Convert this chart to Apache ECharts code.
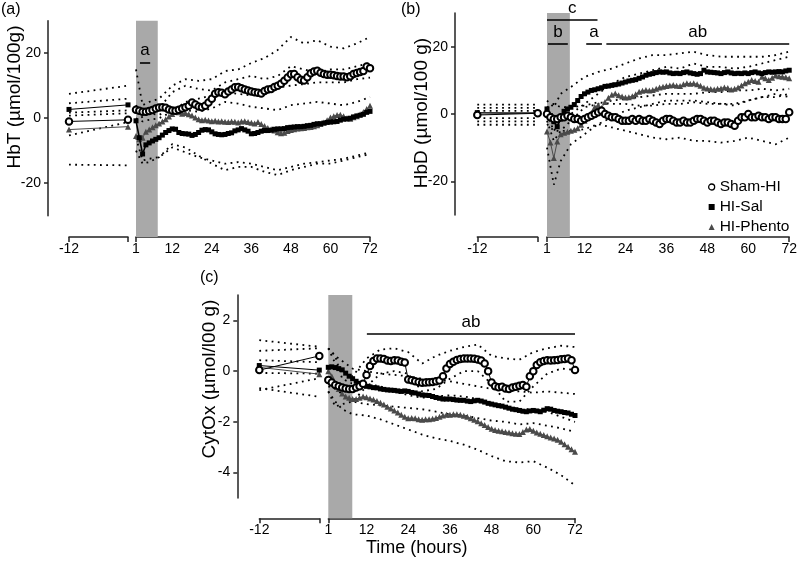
<!DOCTYPE html>
<html><head><meta charset="utf-8">
<script src="https://cdn.jsdelivr.net/npm/echarts@6/dist/echarts.min.js"></script>
<style>html,body{margin:0;padding:0;background:#fff}#c{width:800px;height:564px}</style>
</head><body><div id="c"></div>
<script>
// ---------- DATA ----------
const hours = [1,2,3,4,5,6,7,8,9,10,11,12,13,14,15,16,17,18,19,20,21,22,23,24,25,26,27,28,29,30,31,32,33,34,35,36,37,38,39,40,41,42,43,44,45,46,47,48,49,50,51,52,53,54,55,56,57,58,59,60,61,62,63,64,65,66,67,68,69,70,71,72];
const sdHours = [1,3,5,8,12,16,20,24,28,32,36,40,44,48,52,56,60,64,68,72];
const baseHours = [-12, 0];
const xLabelsRight = [1,12,24,36,48,60,72];
const xLabelsLeft = [-12];
const yTicksHb = [-20,0,20];
const yTicksCyt = [-4,-2,0,2];
const seriesNames = ['Sham-HI','HI-Sal','HI-Phento'];

// (a) HbT
const aSham = [2.6,2.3,2.0,2.0,2.2,2.5,3.0,3.3,3.4,3.2, 2.7,2.4,2.3,2.6,3.0,3.4,3.8,4.8,4.2,3.6, 3.4,3.8,4.8,6.0,7.5,8.0,7.8,7.4,8.2,8.8, 9.5,9.6,9.2,8.8,8.5,8.2,8.0,7.8,7.6,8.4, 8.8,9.0,9.6,10.0,10.6,11.5,12.5,13.5,13.6,12.6, 11.8,11.6,12.6,13.8,14.4,14.6,14.0,13.6,13.4,13.4, 13.2,13.0,12.8,12.8,12.6,12.9,13.6,13.9,14.2,14.5, 15.9,15.4];
const aSal = [-0.8,-6,-11,-8.2,-7.6,-7,-6.5,-6,-5.2,-4.4, -3.8,-3.3,-3.4,-4.4,-4.7,-4.8,-4.9,-5.3,-5.0,-4.4, -3.7,-3.5,-3.6,-4.2,-4.8,-5.0,-5.1,-5.0,-4.7,-4.5, -3.9,-3.6,-3.2,-3.6,-4.0,-4.8,-4.7,-4.4,-4.0,-3.8, -3.8,-3.7,-3.4,-3.3,-3.3,-3.2,-2.9,-2.8,-2.7,-2.6, -2.6,-2.5,-2.3,-2.2,-1.9,-1.7,-1.7,-1.5,-1.3,-1.2, -1.1,-1.0,-0.6,-0.3,-0.2,0.0,0.4,0.7,0.9,1.2, 1.8,2.1];
const aPheno = [-5.5,-6.5,-6,-4.2,-3.5,-2.8,-2.2,-1.6,-1.0,-0.3, 0.5,1.3,2.0,1.8,1.4,1.6,1.2,0.8,0.2,-0.3, -0.6,-0.5,-0.7,-0.9,-0.8,-1.0,-0.9,-1.1,-1.2,-1.0, -1.1,-1.3,-1.0,-0.9,-1.2,-1.4,-1.6,-1.2,-1.8,-2.4, -3.0,-3.4,-3.8,-4.3,-4.6,-4.5,-3.9,-3.6,-3.4,-3.2, -3.1,-3.0,-2.8,-2.7,-2.5,-2.2,-1.8,-1.3,-0.6,0.2, 0.6,1.0,1.1,0.6,0.0,-0.2,0.3,0.6,1.2,1.9, 2.8,3.8];
const aBaseSham = [-1.0,-0.5];
const aBaseSal = [2.7,4.1];
const aBasePheno = [-3.5,-2.6];
const aSD1 = [15,4,5,6,10,12,11.5,12,14.5,15,17,18.5,21,25,23,24,22,21.5,23,25];
const aSD2 = [4,0,2,3,8,10,9,8.5,11,12,13,12,13,16,15,14,15,15,16,17];
const aSD3 = [0,-1,-0.5,0,2,5,6,7,8,7.5,7,8,9.5,10,10.5,11,11,11,12,12.5];
const aSD4 = [3,2,1.5,1,3,2.5,2,3,5,4.5,3.5,3,2.5,4,4.5,5,4.5,4,5,6.5];
const aSD5 = [-6,-13,-12.5,-12,-9,-10.5,-12,-13,-14,-13.5,-14,-15,-16,-15,-14,-13.5,-13,-12.5,-11.5,-10.5];
const aSD6 = [-10,-14,-13.5,-12,-8,-9,-11.5,-14,-16,-15,-15,-16.5,-17.5,-16,-15,-14,-14,-13,-12,-11];
const aBaseSD = [[7.5,10],[4.6,6.0],[1.7,2.4],[0.8,1.5],[-5.3,-1.2],[-14.3,-14.5]];
const aNotes = [{text:'a', from:2.2, to:5.3, y:17.2}];

// (b) HbD
const bSham = [0,-1,-1.5,-1.5,-1,-1,-0.5,-1,-1.5,-1.5, -2,-1.5,-1,-0.5,0,0.5,1,0,-0.5,-1, -1,-1.5,-2,-2,-2,-1.5,-2,-1.5,-2,-2, -1.5,-2,-2.5,-3,-2,-1.5,-1.5,-2,-2.5,-2.5, -2,-2.5,-2.5,-2,-1.5,-1.5,-2,-2.5,-2,-2, -2.5,-3,-2.5,-2.5,-3,-3.5,-2,-1,-1,0, -1,-1,-0.5,-1,-1,-1.5,-1,-1,-1.5,-1.5, -1.5,0.5];
const bSal = [1.5,-0.5,-2.3,-3.8,-1.5,0.8,1.5,2.0,2.8,4.0, 5.2,6.0,6.5,7.0,7.2,7.5,7.8,8.2,8.3,8.5, 8.7,8.9,9.2,9.5,9.8,10.0,10.2,10.6,11.0,11.5, 11.8,12.0,12.3,12.5,12.4,12.5,12.2,12.0,12.1,12.0, 12.3,12.5,12.2,12.0,11.8,12.0,13.0,12.5,12.4,12.3, 12.2,12.0,12.3,12.5,12.2,12.0,12.1,12.0,12.2,12.0, 12.3,12.5,12.2,12.0,12.3,12.5,12.4,12.5,12.6,12.5, 12.8,13.0];
const bPheno = [-5.2,-8.5,-13.1,-8.2,-6.0,-5.6,-5.3,-5.0,-4.7,-4.2, -3.2,-2.0,-0.8,0.4,2.1,2.6,1.8,3.6,4.8,5.7, 6.1,5.6,5.2,4.9,5.0,5.3,5.9,6.6,6.9,7.1, 7.0,7.1,7.5,7.9,8.1,8.3,8.5,8.6,8.4,8.3, 8.8,9.1,9.0,9.1,8.8,8.4,7.8,7.6,7.4,7.3, 7.5,7.6,7.9,7.7,7.3,7.5,7.9,8.5,9.1,9.6, 10.1,9.8,9.6,11.1,10.6,10.1,10.8,11.4,11.2,11.1, 10.9,10.6];
const bBaseSham = [-0.3,0.2];
const bBaseSal = [0.4,0.3];
const bBasePheno = [0.0,0.3];
const bSD1 = [4,2,6,8,11,12.5,13.5,15,16.5,17.5,17.5,18,18.5,17.5,17,17,17,17,17.5,18.5];
const bSD2 = [0,-5,-2,0,3,6,9,11,12,13,14,13.5,15,14,14,13.5,14,15,16,17];
const bSD3 = [-2,-8,-5,-2,2,3,4,4.5,5,5.5,6,6,6,6.5,6.5,7,7,7.5,7,7.5];
const bSD4 = [2,3,2,2,2.5,3.5,3,3,2.5,2.5,3,3,3.5,3,3,3,4,5,5,6];
const bSD5 = [-10,-21,-14,-9,-6,-3,-1,1,2,3,4,4,4,3.5,3,2.5,4,5,6,5];
const bSD6 = [-3,-5,-5,-5,-4.5,-3,-4,-5,-6,-7,-7.5,-7,-8,-8,-8.5,-8,-7,-8,-9,-7];
const bBaseSD = [[2.8,2.8],[1.8,1.8],[0.9,0.9],[-1.2,-1.2],[-2.2,-2.2],[-3.2,-3.2]];
const bNotes = [{text:'c', from:1, to:15.8, y:28.1},{text:'b', from:1.3, to:7.1, y:20.9},{text:'a', from:12.5, to:17.1, y:20.9},{text:'ab', from:18.4, to:72, y:20.9}];

// (c) CytOx
const cSham = [-0.35,-0.45,-0.55,-0.6,-0.65,-0.68,-0.7,-0.7,-0.65,-0.6, -0.5,-0.15,0.2,0.4,0.5,0.5,0.48,0.42,0.4,0.43, 0.42,0.37,0.34,-0.33,-0.36,-0.4,-0.43,-0.46,-0.45,-0.44, -0.43,-0.4,-0.37,-0.2,0.1,0.28,0.37,0.44,0.48,0.5, 0.5,0.5,0.49,0.46,0.42,0.3,0.0,-0.45,-0.6,-0.64, -0.62,-0.68,-0.7,-0.65,-0.62,-0.58,-0.55,-0.62,-0.2,0.0, 0.24,0.35,0.4,0.43,0.42,0.43,0.44,0.47,0.48,0.5, 0.43,0.04];
const cSal = [0.15,0.17,0.14,0.1,0.05,-0.08,-0.2,-0.3,-0.4,-0.48, -0.55,-0.6,-0.62,-0.65,-0.66,-0.7,-0.72,-0.74,-0.75,-0.76, -0.78,-0.8,-0.78,-0.8,-0.84,-0.86,-0.9,-0.94,-0.95,-0.96, -1.0,-1.04,-1.07,-1.1,-1.1,-1.1,-1.12,-1.14,-1.15,-1.15, -1.18,-1.2,-1.17,-1.15,-1.18,-1.22,-1.27,-1.3,-1.33,-1.36, -1.38,-1.42,-1.46,-1.5,-1.52,-1.55,-1.58,-1.6,-1.57,-1.55, -1.57,-1.6,-1.54,-1.48,-1.5,-1.55,-1.58,-1.6,-1.63,-1.65, -1.7,-1.75];
const cPheno = [0.0,-0.2,-0.5,-0.7,-0.88,-1.0,-1.05,-1.1,-1.1,-1.05, -1.0,-1.03,-1.08,-1.12,-1.18,-1.25,-1.32,-1.4,-1.47,-1.55, -1.63,-1.72,-1.8,-1.86,-1.85,-1.86,-1.9,-1.92,-1.9,-1.9, -1.88,-1.85,-1.8,-1.75,-1.72,-1.72,-1.7,-1.7,-1.72,-1.76, -1.8,-1.86,-1.92,-1.98,-2.05,-2.12,-2.2,-2.27,-2.32,-2.35, -2.37,-2.4,-2.42,-2.45,-2.47,-2.48,-2.4,-2.3,-2.28,-2.35, -2.42,-2.47,-2.52,-2.57,-2.62,-2.66,-2.7,-2.78,-2.88,-2.98, -3.08,-3.18];
const cBaseSham = [0.04,0.6];
const cBaseSal = [0.22,0.04];
const cBasePheno = [0.15,-0.12];
const cSD1 = [0.9,0.3,0.0,-0.2,0.5,0.85,0.9,0.75,0.3,0.6,0.8,0.95,1.05,0.6,0.5,0.45,0.75,0.9,1.0,0.95];
const cSD2 = [-0.8,-1.4,-1.3,-1.2,-0.6,-0.1,0.0,-0.1,-0.8,-0.7,-0.3,0.0,0.0,-0.5,-1.2,-1.2,-0.6,-0.1,0.1,0.05];
const cSD3 = [0.9,0.6,0.4,0.1,0.0,-0.1,-0.15,-0.2,-0.3,-0.35,-0.4,-0.5,-0.6,-0.7,-0.75,-0.8,-0.85,-0.8,-0.85,-0.9];
const cSD4 = [-0.6,-0.7,-0.9,-1.2,-1.3,-1.35,-1.4,-1.45,-1.5,-1.6,-1.7,-1.75,-1.85,-1.95,-2.0,-2.1,-2.05,-2.15,-2.25,-2.4];
const cSD5 = [0.9,0.6,-0.3,-0.5,-0.5,-0.6,-0.8,-0.95,-1.05,-1.0,-0.95,-1.0,-1.1,-1.25,-1.4,-1.5,-1.5,-1.6,-1.8,-2.0];
const cSD6 = [-0.8,-1.2,-1.5,-1.7,-1.75,-1.9,-2.1,-2.3,-2.5,-2.65,-2.75,-2.9,-3.1,-3.35,-3.55,-3.6,-3.55,-3.8,-4.1,-4.5];
const cBaseSD = [[1.22,0.96],[0.8,0.9],[0.43,0.35],[-0.07,-0.1],[-0.75,-0.28],[-0.67,-1.01]];
const cNotes = [{text:'ab', from:12.1, to:72, y:1.48}];

// ---------- LAYOUT ----------
const FONT = '"Liberation Sans", Arial, sans-serif';
const panels = [
  {yMin:-30, yMax:30, yTicks:yTicksHb, yAxisX:48, lx0:69, lx1:128, rx0:136, rx1:370, top:20.7, bottom:215.7, xAxisY:237, band:[1,7.6],
   title:'HbT (µmol/100g)', tx:15, ty:97, tag:'(a)', tagX:1, tagY:2,
   main:[aSham,aSal,aPheno], base:[aBaseSham,aBaseSal,aBasePheno], sd:[aSD1,aSD2,aSD3,aSD4,aSD5,aSD6], bsd:aBaseSD, notes:aNotes},
  {yMin:-30, yMax:30, yTicks:yTicksHb, yAxisX:455, lx0:477.3, lx1:537.7, rx0:547, rx1:790, top:13, bottom:215, xAxisY:237, band:[1,7.7],
   title:'HbD (µmol/100 g)', tx:422, ty:113, tag:'(b)', tagX:401, tagY:2,
   main:[bSham,bSal,bPheno], base:[bBaseSham,bBaseSal,bBasePheno], sd:[bSD1,bSD2,bSD3,bSD4,bSD5,bSD6], bsd:bBaseSD, notes:bNotes},
  {yMin:-5, yMax:3, yTicks:yTicksCyt, yAxisX:237.3, lx0:259.3, lx1:319.3, rx0:328.3, rx1:575, top:295, bottom:498, xAxisY:518.3, band:[1,7.9],
   title:'CytOx (µmol/l00 g)', tx:210, ty:379, tag:'(c)', tagX:200, tagY:270,
   main:[cSham,cSal,cPheno], base:[cBaseSham,cBaseSal,cBasePheno], sd:[cSD1,cSD2,cSD3,cSD4,cSD5,cSD6], bsd:cBaseSD, notes:cNotes}
];

const AX = {color:'#222', width:1.5};
const mainStyles = [
  {symbol:'emptyCircle', symbolSize:6.5, itemStyle:{color:'#000', borderWidth:1.2}, lineStyle:{color:'#000', width:1}, z:6},
  {symbol:'rect', symbolSize:5, itemStyle:{color:'#000'}, lineStyle:{color:'#000', width:1.6}, z:5},
  {symbol:'triangle', symbolSize:6, itemStyle:{color:'#4a4a4a'}, lineStyle:{color:'#4a4a4a', width:1}, z:4}
];
const zip = (xs, ys) => xs.map((x, i) => [x, ys[i]]);

const grid = [], xAxis = [], yAxis = [], series = [], graphic = [];
panels.forEach((p, i) => {
  const L = 2*i, R = 2*i + 1;
  const h = p.bottom - p.top;
  grid.push({left:p.lx0, top:p.top, width:p.lx1 - p.lx0, height:h});
  grid.push({left:p.rx0, top:p.top, width:p.rx1 - p.rx0, height:p.xAxisY - p.top});
  xAxis.push({gridIndex:L, type:'value', min:-12, max:0, offset:p.xAxisY - p.bottom,
    axisLine:{show:true, onZero:false, lineStyle:AX},
    axisTick:{show:true, customValues:[-12,0], length:5, lineStyle:AX},
    axisLabel:{customValues:xLabelsLeft, fontSize:14, color:'#000', margin:5, fontFamily:FONT},
    splitLine:{show:false}});
  xAxis.push({gridIndex:R, type:'value', min:1, max:72,
    axisLine:{show:true, onZero:false, lineStyle:AX},
    axisTick:{show:true, customValues:[1,72], length:5, lineStyle:AX},
    axisLabel:{customValues:xLabelsRight, fontSize:14, color:'#000', margin:5, fontFamily:FONT},
    splitLine:{show:false}});
  yAxis.push({gridIndex:L, type:'value', min:p.yMin, max:p.yMax, offset:p.lx0 - p.yAxisX,
    axisLine:{show:true, onZero:false, lineStyle:AX},
    axisTick:{show:true, customValues:p.yTicks, length:4, lineStyle:AX},
    axisLabel:{customValues:p.yTicks, fontSize:14, color:'#000', margin:7, fontFamily:FONT},
    splitLine:{show:false}});
  const ext = (p.xAxisY - p.bottom) * (p.yMax - p.yMin) / h;
  yAxis.push({gridIndex:R, type:'value', min:p.yMin - ext, max:p.yMax, show:false, splitLine:{show:false}});

  series.push({type:'line', name:'band' + i, xAxisIndex:R, yAxisIndex:R, data:[], z:1, silent:true,
    markArea:{silent:true, itemStyle:{color:'#a9a9a9'}, data:[[{xAxis:p.band[0]}, {xAxis:p.band[1]}]]},
    markLine:{silent:true, symbol:['none','none'], lineStyle:{color:'#000', width:1.6, type:'solid'},
      label:{show:true, position:'insideMiddleTop', distance:3, formatter:'{b}', fontSize:17, color:'#000', fontFamily:FONT},
      data:p.notes.map(n => [{name:n.text, coord:[n.from, n.y]}, {coord:[n.to, n.y]}])}});
  p.sd.forEach(vals => series.push({type:'line', xAxisIndex:R, yAxisIndex:R, data:zip(sdHours, vals), symbol:'none', silent:true, z:2,
    lineStyle:{color:'#000', width:1.8, type:[1.8,4.4]}}));
  p.bsd.forEach(vals => series.push({type:'line', xAxisIndex:L, yAxisIndex:L, data:zip(baseHours, vals), symbol:'none', silent:true, z:2,
    lineStyle:{color:'#000', width:1.8, type:[1.8,4.4]}}));
  [2,1,0].forEach(k => {
    const st = mainStyles[k];
    series.push(Object.assign({type:'line', name:seriesNames[k], xAxisIndex:R, yAxisIndex:R, data:zip(hours, p.main[k]), silent:true}, st));
    series.push(Object.assign({type:'line', name:seriesNames[k], xAxisIndex:L, yAxisIndex:L, data:zip(baseHours, p.base[k]), silent:true}, st,
      {lineStyle:{color:st.lineStyle.color, width:1}}));
  });
  graphic.push({type:'text', x:p.tx, y:p.ty, rotation:Math.PI/2,
    style:{text:p.title, font:'19px ' + FONT, fill:'#000', textAlign:'center', textVerticalAlign:'middle', align:'center', verticalAlign:'middle'}});
  graphic.push({type:'text', left:p.tagX, top:p.tagY, style:{text:p.tag, font:'16px ' + FONT, fill:'#000'}});
});
graphic.push({type:'text', x:416.7, y:548,
  style:{text:'Time (hours)', font:'18px ' + FONT, fill:'#000', textAlign:'center', textVerticalAlign:'middle', align:'center', verticalAlign:'middle'}});

const chart = echarts.init(document.getElementById('c'), null, {renderer:'canvas'});
chart.setOption({
  animation:false,
  backgroundColor:'#fff',
  textStyle:{fontFamily:FONT},
  grid, xAxis, yAxis, series, graphic,
  legend:{orient:'vertical', left:703, top:174, itemWidth:6, itemHeight:6, itemGap:4,
    textStyle:{fontSize:15.5, color:'#000', fontFamily:FONT}, selectedMode:false,
    data:[
      {name:'Sham-HI', icon:'circle', itemStyle:{color:'#fff', borderColor:'#000', borderWidth:1.3}},
      {name:'HI-Sal', icon:'rect', itemStyle:{color:'#000'}},
      {name:'HI-Phento', icon:'triangle', itemStyle:{color:'#4a4a4a'}}
    ]}
});
</script></body></html>
